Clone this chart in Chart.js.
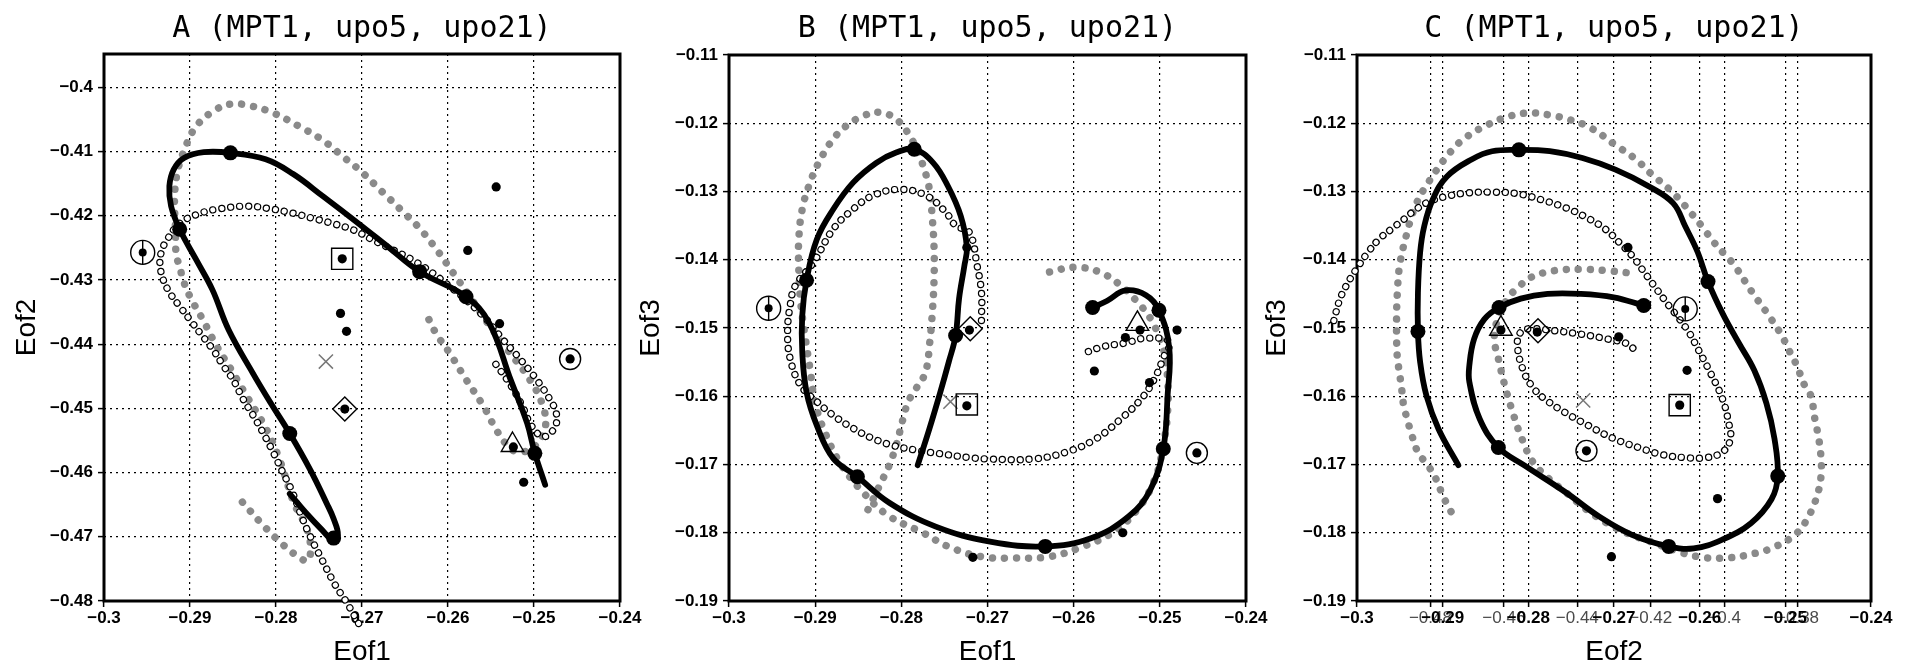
<!DOCTYPE html>
<html><head><meta charset="utf-8">
<script src="https://cdn.jsdelivr.net/npm/chart.js@4.4.0/dist/chart.umd.min.js"></script>
<style>
html,body{margin:0;padding:0;background:#fff;overflow:hidden;width:1908px;height:667px;}
canvas{position:absolute;top:0;}
</style></head>
<body>
<canvas id="cA" width="650" height="667" style="left:0px"></canvas>
<canvas id="cB" width="651" height="667" style="left:625px"></canvas>
<canvas id="cC" width="648" height="667" style="left:1253px"></canvas>
<script>
// ---------- tick values ----------
const eof1Ticks = [-0.3,-0.29,-0.28,-0.27,-0.26,-0.25,-0.24];
const eof2TicksA = [-0.48,-0.47,-0.46,-0.45,-0.44,-0.43,-0.42,-0.41,-0.4];
const eof3Ticks = [-0.19,-0.18,-0.17,-0.16,-0.15,-0.14,-0.13,-0.12,-0.11];
const eof2TicksC = [-0.48,-0.46,-0.44,-0.42,-0.4,-0.38];
const titleA = 'A (MPT1, upo5, upo21)';
const titleB = 'B (MPT1, upo5, upo21)';
const titleC = 'C (MPT1, upo5, upo21)';

// ---------- panel A (Eof1, Eof2) ----------
const aBlack = [[-0.2784,-0.4633],[-0.2765,-0.4663],[-0.2746,-0.4690],[-0.2734,-0.4705],[-0.2728,-0.4697],[-0.2733,-0.4672],[-0.2741,-0.4648],[-0.2760,-0.4596],[-0.2784,-0.4539],[-0.2806,-0.4492],[-0.2827,-0.4445],[-0.2855,-0.4378],[-0.2874,-0.4315],[-0.2893,-0.4268],[-0.2912,-0.4221],[-0.2922,-0.4185],[-0.2924,-0.4154],[-0.2919,-0.4128],[-0.2907,-0.4110],[-0.2884,-0.4101],[-0.2853,-0.4102],[-0.2812,-0.4112],[-0.2780,-0.4135],[-0.2745,-0.4170],[-0.2706,-0.4210],[-0.2670,-0.4248],[-0.2633,-0.4287],[-0.2579,-0.4326],[-0.2552,-0.4367],[-0.2527,-0.4456],[-0.2508,-0.4523],[-0.2499,-0.4570],[-0.2487,-0.4619]];
const aBig = [[-0.2733,-0.4702],[-0.2784,-0.4539],[-0.2912,-0.4221],[-0.2853,-0.4102],[-0.2633,-0.4287],[-0.2579,-0.4326],[-0.2499,-0.4570]];
const aOpen = [[-0.2704,-0.4835],[-0.2717,-0.4804],[-0.2732,-0.4773],[-0.2746,-0.4737],[-0.2760,-0.4700],[-0.2770,-0.4669],[-0.2782,-0.4627],[-0.2792,-0.4600],[-0.2803,-0.4569],[-0.2815,-0.4538],[-0.2826,-0.4512],[-0.2838,-0.4486],[-0.2850,-0.4455],[-0.2861,-0.4434],[-0.2873,-0.4409],[-0.2888,-0.4383],[-0.2900,-0.4362],[-0.2912,-0.4341],[-0.2923,-0.4321],[-0.2931,-0.4300],[-0.2935,-0.4274],[-0.2933,-0.4255],[-0.2927,-0.4238],[-0.2912,-0.4212],[-0.2888,-0.4196],[-0.2865,-0.4189],[-0.2834,-0.4185],[-0.2807,-0.4189],[-0.2780,-0.4196],[-0.2757,-0.4204],[-0.2734,-0.4212],[-0.2710,-0.4222],[-0.2687,-0.4238],[-0.2664,-0.4253],[-0.2641,-0.4269],[-0.2617,-0.4290],[-0.2598,-0.4310],[-0.2579,-0.4331],[-0.2555,-0.4362],[-0.2536,-0.4393],[-0.2515,-0.4425],[-0.2497,-0.4455],[-0.2482,-0.4485],[-0.2474,-0.4508],[-0.2476,-0.4530],[-0.2489,-0.4544],[-0.2503,-0.4527],[-0.2514,-0.4495],[-0.2528,-0.4462],[-0.2545,-0.4430]];
const aGray = [[-0.2839,-0.4646],[-0.2817,-0.4679],[-0.2793,-0.4711],[-0.2774,-0.4731],[-0.2763,-0.4737],[-0.2760,-0.4711],[-0.2767,-0.4679],[-0.2779,-0.4648],[-0.2796,-0.4579],[-0.2811,-0.4533],[-0.2834,-0.4481],[-0.2852,-0.4440],[-0.2869,-0.4403],[-0.2885,-0.4362],[-0.2900,-0.4326],[-0.2908,-0.4300],[-0.2912,-0.4279],[-0.2916,-0.4261],[-0.2917,-0.4216],[-0.2918,-0.4175],[-0.2915,-0.4134],[-0.2905,-0.4092],[-0.2893,-0.4061],[-0.2874,-0.4038],[-0.2853,-0.4026],[-0.2829,-0.4029],[-0.2803,-0.4040],[-0.2774,-0.4060],[-0.2746,-0.4082],[-0.2722,-0.4108],[-0.2701,-0.4131],[-0.2677,-0.4162],[-0.2653,-0.4193],[-0.2632,-0.4221],[-0.2613,-0.4253],[-0.2594,-0.4289],[-0.2575,-0.4325],[-0.2555,-0.4365],[-0.2530,-0.4410],[-0.2505,-0.4455],[-0.2490,-0.4495],[-0.2487,-0.4530],[-0.2500,-0.4560],[-0.2518,-0.4568],[-0.2530,-0.4559],[-0.2544,-0.4533],[-0.2559,-0.4496],[-0.2579,-0.4455],[-0.2598,-0.4414],[-0.2614,-0.4383],[-0.2625,-0.4354]];
const aDots = [[-0.2723,-0.4267],[-0.2720,-0.4501],[-0.2524,-0.4560],[-0.2458,-0.4423],[-0.2725,-0.4352],[-0.2718,-0.4380],[-0.2544,-0.4155],[-0.2577,-0.4254],[-0.2540,-0.4368],[-0.2512,-0.4615],[-0.3011,-0.4203]];
const aSquare = [[-0.2723,-0.4267]];
const aDiamond = [[-0.2720,-0.4501]];
const aTriangle = [[-0.2525,-0.4557]];
const aBull = [[-0.2458,-0.4423]];
const aPhi = [[-0.2955,-0.4257]];
const aCross = [[-0.2742,-0.4427]];

// ---------- panel B (Eof1, Eof3) ----------
const bBlack = [[-0.2781,-0.1701],[-0.2768,-0.1650],[-0.2755,-0.1595],[-0.2745,-0.1550],[-0.2737,-0.1511],[-0.2733,-0.1457],[-0.2727,-0.1410],[-0.2724,-0.1382],[-0.2731,-0.1336],[-0.2746,-0.1292],[-0.2763,-0.1258],[-0.2785,-0.1238],[-0.2806,-0.1243],[-0.2829,-0.1258],[-0.2856,-0.1287],[-0.2879,-0.1326],[-0.2898,-0.1370],[-0.2910,-0.1430],[-0.2915,-0.1482],[-0.2915,-0.1535],[-0.2910,-0.1594],[-0.2898,-0.1643],[-0.2879,-0.1691],[-0.2851,-0.1718],[-0.2814,-0.1756],[-0.2760,-0.1791],[-0.2697,-0.1813],[-0.2633,-0.1820],[-0.2580,-0.1808],[-0.2536,-0.1776],[-0.2511,-0.1737],[-0.2496,-0.1677],[-0.2491,-0.1599],[-0.2489,-0.1530],[-0.2501,-0.1474],[-0.2516,-0.1452],[-0.2540,-0.1445],[-0.2561,-0.1460],[-0.2578,-0.1470]];
const bBig = [[-0.2737,-0.1511],[-0.2785,-0.1238],[-0.2910,-0.1430],[-0.2851,-0.1718],[-0.2633,-0.1820],[-0.2496,-0.1677],[-0.2501,-0.1474],[-0.2578,-0.1470]];
const bOpen = [[-0.2707,-0.1489],[-0.2707,-0.1448],[-0.2712,-0.1409],[-0.2721,-0.1360],[-0.2737,-0.1350],[-0.2748,-0.1331],[-0.2771,-0.1306],[-0.2802,-0.1297],[-0.2833,-0.1306],[-0.2856,-0.1326],[-0.2879,-0.1355],[-0.2902,-0.1404],[-0.2923,-0.1438],[-0.2929,-0.1467],[-0.2932,-0.1506],[-0.2929,-0.1545],[-0.2917,-0.1584],[-0.2898,-0.1608],[-0.2879,-0.1628],[-0.2856,-0.1647],[-0.2833,-0.1662],[-0.2810,-0.1672],[-0.2783,-0.1679],[-0.2756,-0.1684],[-0.2720,-0.1690],[-0.2697,-0.1692],[-0.2648,-0.1692],[-0.2609,-0.1682],[-0.2575,-0.1663],[-0.2545,-0.1633],[-0.2521,-0.1603],[-0.2506,-0.1574],[-0.2496,-0.1544],[-0.2489,-0.1520],[-0.2516,-0.1515],[-0.2540,-0.1522],[-0.2565,-0.1527],[-0.2584,-0.1535]];
const bGray = [[-0.2628,-0.1418],[-0.2599,-0.1411],[-0.2570,-0.1418],[-0.2545,-0.1438],[-0.2526,-0.1462],[-0.2511,-0.1486],[-0.2496,-0.1530],[-0.2491,-0.1574],[-0.2491,-0.1623],[-0.2496,-0.1672],[-0.2506,-0.1722],[-0.2526,-0.1766],[-0.2555,-0.1800],[-0.2589,-0.1820],[-0.2628,-0.1835],[-0.2668,-0.1837],[-0.2707,-0.1835],[-0.2746,-0.1820],[-0.2775,-0.1800],[-0.2815,-0.1775],[-0.2845,-0.1740],[-0.2870,-0.1700],[-0.2888,-0.1655],[-0.2900,-0.1610],[-0.2906,-0.1560],[-0.2912,-0.1510],[-0.2917,-0.1460],[-0.2919,-0.1415],[-0.2919,-0.1370],[-0.2915,-0.1326],[-0.2906,-0.1287],[-0.2894,-0.1253],[-0.2879,-0.1223],[-0.2864,-0.1204],[-0.2844,-0.1189],[-0.2825,-0.1184],[-0.2806,-0.1194],[-0.2790,-0.1219],[-0.2779,-0.1248],[-0.2771,-0.1277],[-0.2767,-0.1301],[-0.2764,-0.1340],[-0.2762,-0.1384],[-0.2762,-0.1428],[-0.2764,-0.1477],[-0.2767,-0.1521],[-0.2772,-0.1565],[-0.2783,-0.1589],[-0.2792,-0.1608],[-0.2798,-0.1633],[-0.2806,-0.1672],[-0.2814,-0.1701],[-0.2823,-0.1725],[-0.2839,-0.1767]];
const bDots = [[-0.2721,-0.1503],[-0.2724,-0.1614],[-0.2523,-0.1503],[-0.2457,-0.1683],[-0.2576,-0.1563],[-0.3012,-0.1750],[-0.2717,-0.1836],[-0.2543,-0.1800],[-0.2512,-0.1580],[-0.2540,-0.1514],[-0.2480,-0.1503],[-0.2724,-0.1382]];
const bSquare = [[-0.2724,-0.1612]];
const bDiamond = [[-0.2720,-0.1501]];
const bTriangle = [[-0.2526,-0.1494]];
const bBull = [[-0.2457,-0.1683]];
const bPhi = [[-0.2954,-0.1471]];
const bCross = [[-0.2743,-0.1608]];

// ---------- panel C (Eof2, Eof3) ----------
const cBlack = [[-0.4724,-0.1701],[-0.4778,-0.1648],[-0.4811,-0.1599],[-0.4828,-0.1550],[-0.4834,-0.1505],[-0.4834,-0.1448],[-0.4828,-0.1389],[-0.4817,-0.1351],[-0.4794,-0.1312],[-0.4755,-0.1278],[-0.4688,-0.1253],[-0.4632,-0.1241],[-0.4559,-0.1239],[-0.4475,-0.1241],[-0.4386,-0.1251],[-0.4296,-0.1268],[-0.4207,-0.1292],[-0.4139,-0.1317],[-0.4106,-0.1351],[-0.4072,-0.1389],[-0.4044,-0.1432],[-0.4003,-0.1480],[-0.3960,-0.1522],[-0.3918,-0.1562],[-0.3885,-0.1610],[-0.3863,-0.1662],[-0.3854,-0.1717],[-0.3871,-0.1751],[-0.3927,-0.1786],[-0.4005,-0.1810],[-0.4083,-0.1823],[-0.4151,-0.1820],[-0.4251,-0.1803],[-0.4341,-0.1776],[-0.4431,-0.1741],[-0.4542,-0.1702],[-0.4615,-0.1675],[-0.4666,-0.1633],[-0.4694,-0.1579],[-0.4694,-0.1555],[-0.4681,-0.1516],[-0.4653,-0.1487],[-0.4613,-0.1470],[-0.4554,-0.1457],[-0.4481,-0.1450],[-0.4391,-0.1450],[-0.4301,-0.1455],[-0.4219,-0.1467]];
const cBig = [[-0.4834,-0.1505],[-0.4559,-0.1239],[-0.4044,-0.1432],[-0.3854,-0.1717],[-0.4151,-0.1820],[-0.4615,-0.1675],[-0.4613,-0.1470],[-0.4219,-0.1467]];
const cOpen = [[-0.5063,-0.1489],[-0.5046,-0.1457],[-0.5024,-0.1433],[-0.4996,-0.1409],[-0.4970,-0.1389],[-0.4940,-0.1370],[-0.4906,-0.1355],[-0.4873,-0.1341],[-0.4839,-0.1326],[-0.4800,-0.1314],[-0.4755,-0.1307],[-0.4699,-0.1302],[-0.4632,-0.1301],[-0.4565,-0.1303],[-0.4498,-0.1312],[-0.4431,-0.1324],[-0.4375,-0.1338],[-0.4324,-0.1355],[-0.4285,-0.1375],[-0.4251,-0.1394],[-0.4218,-0.1418],[-0.4184,-0.1443],[-0.4151,-0.1467],[-0.4123,-0.1486],[-0.4095,-0.1507],[-0.4072,-0.1530],[-0.4039,-0.1564],[-0.4005,-0.1603],[-0.3988,-0.1638],[-0.3983,-0.1663],[-0.4005,-0.1682],[-0.4050,-0.1690],[-0.4106,-0.1690],[-0.4173,-0.1685],[-0.4228,-0.1676],[-0.4301,-0.1662],[-0.4373,-0.1642],[-0.4436,-0.1623],[-0.4491,-0.1603],[-0.4518,-0.1589],[-0.4545,-0.1565],[-0.4563,-0.1526],[-0.4554,-0.1506],[-0.4527,-0.1501],[-0.4463,-0.1504],[-0.4391,-0.1509],[-0.4319,-0.1516],[-0.4264,-0.1523],[-0.4242,-0.1533]];
const cGray = [[-0.4744,-0.1769],[-0.4766,-0.1746],[-0.4784,-0.1722],[-0.4806,-0.1702],[-0.4834,-0.1682],[-0.4850,-0.1658],[-0.4862,-0.1636],[-0.4873,-0.1613],[-0.4878,-0.1591],[-0.4884,-0.1567],[-0.4890,-0.1544],[-0.4892,-0.1520],[-0.4892,-0.1477],[-0.4890,-0.1448],[-0.4884,-0.1409],[-0.4865,-0.1363],[-0.4840,-0.1320],[-0.4806,-0.1287],[-0.4744,-0.1241],[-0.4699,-0.1219],[-0.4643,-0.1202],[-0.4587,-0.1190],[-0.4531,-0.1185],[-0.4475,-0.1188],[-0.4419,-0.1195],[-0.4363,-0.1207],[-0.4296,-0.1232],[-0.4240,-0.1253],[-0.4201,-0.1273],[-0.4139,-0.1302],[-0.4083,-0.1336],[-0.4055,-0.1355],[-0.4027,-0.1375],[-0.3999,-0.1392],[-0.3971,-0.1409],[-0.3927,-0.1445],[-0.3882,-0.1479],[-0.3843,-0.1511],[-0.3826,-0.1530],[-0.3803,-0.1554],[-0.3781,-0.1584],[-0.3764,-0.1599],[-0.3753,-0.1633],[-0.3742,-0.1663],[-0.3736,-0.1692],[-0.3736,-0.1717],[-0.3747,-0.1746],[-0.3770,-0.1776],[-0.3803,-0.1801],[-0.3859,-0.1820],[-0.3915,-0.1830],[-0.3994,-0.1837],[-0.4072,-0.1835],[-0.4139,-0.1825],[-0.4200,-0.1813],[-0.4263,-0.1801],[-0.4319,-0.1786],[-0.4375,-0.1766],[-0.4431,-0.1741],[-0.4475,-0.1722],[-0.4520,-0.1697],[-0.4551,-0.1662],[-0.4575,-0.1625],[-0.4597,-0.1585],[-0.4615,-0.1545],[-0.4626,-0.1516],[-0.4617,-0.1487],[-0.4590,-0.1457],[-0.4560,-0.1440],[-0.4527,-0.1426],[-0.4463,-0.1416],[-0.4391,-0.1414],[-0.4319,-0.1416],[-0.4264,-0.1419]];
const cDots = [[-0.4121,-0.1613],[-0.4608,-0.1503],[-0.4375,-0.1680],[-0.4287,-0.1513],[-0.4101,-0.1562],[-0.4307,-0.1835],[-0.4018,-0.1750],[-0.4262,-0.1382],[-0.4509,-0.1506]];
const cSquare = [[-0.4121,-0.1613]];
const cDiamond = [[-0.4507,-0.1504]];
const cTriangle = [[-0.4608,-0.1501]];
const cBull = [[-0.4375,-0.1680]];
const cPhi = [[-0.4106,-0.1472]];
const cCross = [[-0.4384,-0.1606]];

// ---------- helpers ----------
const P = a => a.map(p => ({x: p[0], y: p[1]}));
const fmt = v => (v < 0 ? '\u2212' : '') + String(parseFloat(Math.abs(v).toFixed(3)));
const FT = '"DejaVu Sans Mono","Liberation Mono",monospace';
const FL = '"Liberation Sans",Arial,sans-serif';

function trajSets(black, big, open, gray, xid) {
  const line = {xAxisID: xid, yAxisID: 'y', showLine: true, pointRadius: 0, pointHoverRadius: 0,
    tension: 0.4, capBezierPoints: false, clip: false, fill: false,
    borderCapStyle: 'round', borderJoinStyle: 'round'};
  return [
    {xAxisID: xid, yAxisID: 'y', data: P(big), showLine: false, pointRadius: 7.5,
      pointBackgroundColor: '#000', pointBorderWidth: 0, clip: false},
    Object.assign({}, line, {data: P(black), borderColor: '#000', borderWidth: 5.8}),
    Object.assign({}, line, {data: P(open), borderColor: '#fff', borderWidth: 5, borderDash: [0.01, 9]}),
    Object.assign({}, line, {data: P(open), borderColor: '#000', borderWidth: 7.4, borderDash: [0.01, 9]}),
    Object.assign({}, line, {data: P(gray), borderColor: '#8a8a8a', borderWidth: 7.5, borderDash: [0.01, 12]})
  ];
}
function markerSets(m, xid) {
  const b = {xAxisID: xid, yAxisID: 'y', showLine: false, clip: false, pointHoverRadius: 0};
  const h = {pointBackgroundColor: 'rgba(0,0,0,0)', pointBorderColor: '#000', pointBorderWidth: 1.4};
  return [
    Object.assign({}, b, {data: P(m.dots), pointRadius: 4.6, pointBackgroundColor: '#000', pointBorderWidth: 0}),
    Object.assign({}, b, h, {data: P(m.square), pointStyle: 'rect', pointRadius: 15}),
    Object.assign({}, b, h, {data: P(m.diamond), pointStyle: 'rectRot', pointRadius: 12}),
    Object.assign({}, b, h, {data: P(m.triangle), pointStyle: 'triangle', pointRadius: 13}),
    Object.assign({}, b, h, {data: P(m.bull), pointStyle: 'circle', pointRadius: 10.5}),
    Object.assign({}, b, h, {data: P(m.phi), pointStyle: 'circle', pointRadius: 12}),
    Object.assign({}, b, h, {data: P(m.phi), pointStyle: 'line', pointRotation: 90, pointRadius: 12}),
    Object.assign({}, b, {data: P(m.phi), pointRadius: 4, pointBackgroundColor: '#000', pointBorderWidth: 0}),
    Object.assign({}, b, {data: P(m.cross), pointStyle: 'crossRot', pointRadius: 10, pointBorderColor: '#777', pointBorderWidth: 1.5})
  ];
}
function axis(min, max, ticks, o) {
  return {
    type: 'linear', min: min, max: max, position: o.position, weight: o.weight || 0,
    afterBuildTicks: s => { s.ticks = ticks.map(v => ({value: v})); },
    afterFit: s => {
      if (o.position === 'left') s.width = o.size; else s.height = o.size;
      if (o.noLabelClip) s._computeLabelArea = () => undefined;
    },
    ticks: {callback: v => fmt(v), autoSkip: false, maxRotation: 0, minRotation: 0, padding: o.pad,
      color: o.tickColor || '#000', font: {family: FL, size: 17, weight: o.tickWeight || 'bold'}},
    grid: {color: '#000', lineWidth: 1.2, drawTicks: true, tickLength: 6, tickColor: '#000', tickWidth: 1.5},
    border: {display: false, dash: [2, 4]},
    title: o.title ? {display: true, text: o.title, color: '#000',
      font: {family: FL, size: 28, weight: 'normal', lineHeight: 1}, padding: o.titlePad} : {display: false}
  };
}
const framePlugin = {id: 'frame', beforeDatasetsDraw(chart) {
  const ctx = chart.ctx, a = chart.chartArea;
  ctx.save(); ctx.setLineDash([]); ctx.strokeStyle = '#000'; ctx.lineWidth = 3;
  ctx.strokeRect(a.left, a.top, a.right - a.left, a.bottom - a.top); ctx.restore();
}};
const titlePlugin = {id: 'ptitle', afterDraw(chart, args, opts) {
  const ctx = chart.ctx, a = chart.chartArea;
  ctx.save(); ctx.font = '30px ' + FT; ctx.fillStyle = '#000';
  ctx.textAlign = 'center'; ctx.textBaseline = 'middle';
  ctx.fillText(opts.text, (a.left + a.right) / 2, opts.y); ctx.restore();
}};
function make(id, title, top, scales, datasets) {
  new Chart(document.getElementById(id), {
    type: 'scatter',
    data: {datasets: datasets},
    options: {
      responsive: false, animation: false, events: [],
      layout: {padding: {left: 0, right: 30, top: top, bottom: 0}},
      plugins: {legend: {display: false}, tooltip: {enabled: false}, ptitle: {text: title, y: 29}},
      scales: scales
    },
    plugins: [framePlugin, titlePlugin]
  });
}

make('cA', titleA, 54, {
  x: axis(-0.3, -0.24, eof1Ticks, {position: 'bottom', size: 66, pad: 1, title: 'Eof1', titlePad: {top: 0, bottom: 1}}),
  y: axis(-0.48, -0.3948, eof2TicksA, {position: 'left', size: 104, pad: 5, title: 'Eof2', titlePad: {top: 13.5, bottom: 0}})
}, markerSets({dots: aDots, square: aSquare, diamond: aDiamond, triangle: aTriangle, bull: aBull, phi: aPhi, cross: aCross}, 'x')
   .concat(trajSets(aBlack, aBig, aOpen, aGray, 'x')));

make('cB', titleB, 55, {
  x: axis(-0.3, -0.24, eof1Ticks, {position: 'bottom', size: 66, pad: 1, title: 'Eof1', titlePad: {top: 0, bottom: 1}}),
  y: axis(-0.19, -0.11, eof3Ticks, {position: 'left', size: 104, pad: 5, title: 'Eof3', titlePad: {top: 12.6, bottom: 0}})
}, markerSets({dots: bDots, square: bSquare, diamond: bDiamond, triangle: bTriangle, bull: bBull, phi: bPhi, cross: bCross}, 'x')
   .concat(trajSets(bBlack, bBig, bOpen, bGray, 'x')));

make('cC', titleC, 55, {
  x2: axis(-0.5, -0.36, eof2TicksC, {position: 'bottom', weight: 0, size: 0, pad: 1, tickColor: '#4a4a4a', tickWeight: 'normal', noLabelClip: true}),
  x: axis(-0.3, -0.24, eof1Ticks, {position: 'bottom', weight: 1, size: 66, pad: 1, title: 'Eof2', titlePad: {top: 0, bottom: 1}}),
  y: axis(-0.19, -0.11, eof3Ticks, {position: 'left', size: 104, pad: 5, title: 'Eof3', titlePad: {top: 10.5, bottom: 0}})
}, markerSets({dots: cDots, square: cSquare, diamond: cDiamond, triangle: cTriangle, bull: cBull, phi: cPhi, cross: cCross}, 'x2')
   .concat(trajSets(cBlack, cBig, cOpen, cGray, 'x2')));
</script>
</body></html>
